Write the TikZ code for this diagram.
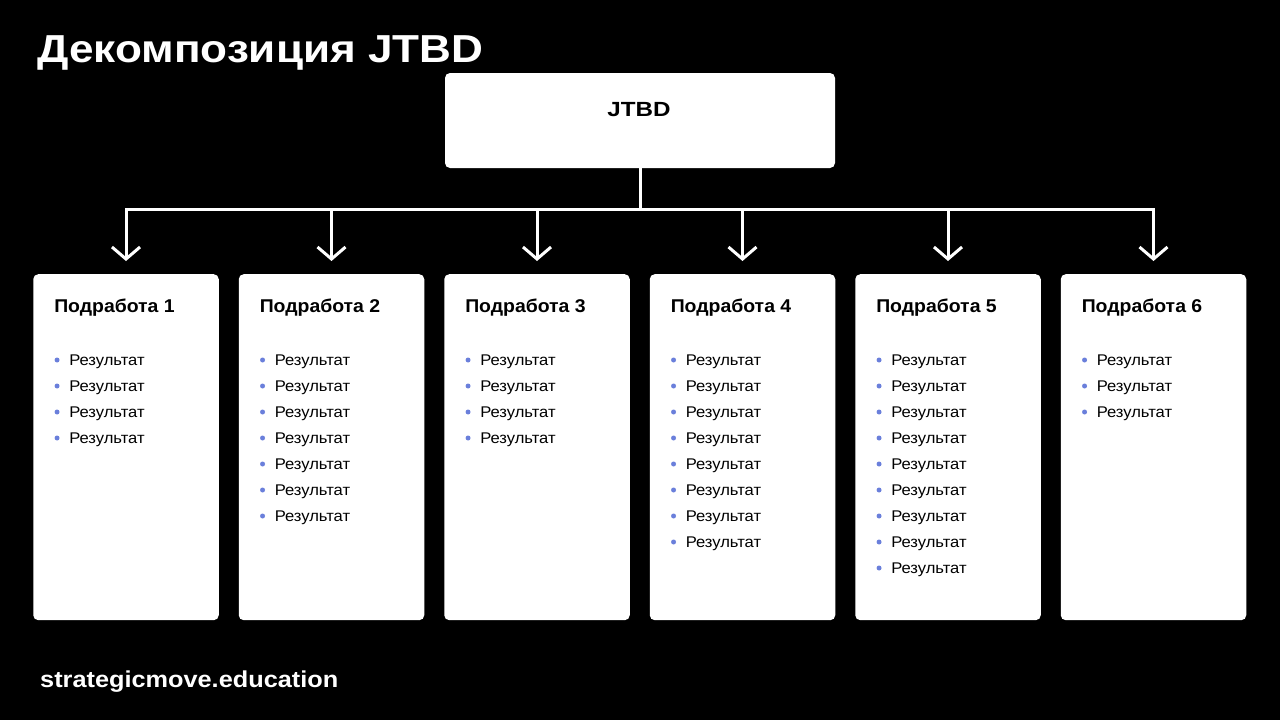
\documentclass[tikz,border=0pt]{standalone}
\usepackage{fontspec}
\usepackage{graphicx}
\setmainfont{Liberation Sans}
\usetikzlibrary{arrows.meta}
\definecolor{bul}{HTML}{6A7FDB}
\newcommand{\widen}[2]{\scalebox{#1}[1]{#2}}
\begin{document}
\begin{tikzpicture}[x=1pt,y=-1pt,
  card/.style={fill=white,rounded corners=5pt,minimum width=185.5pt,minimum height=346pt,inner sep=0pt,anchor=north},
  topcard/.style={fill=white,rounded corners=5pt,minimum width=390pt,minimum height=95pt,inner sep=0pt},
  conn/.style={draw=white,line width=3pt},
  arr/.style={conn,-{Straight Barb[length=12pt,width=28pt,line width=3pt]},shorten >=13pt},
  head/.style={font=\bfseries\fontsize{18.5}{20}\selectfont,anchor=base west,inner sep=0pt},
  item/.style={font=\fontsize{15.5}{18}\selectfont,anchor=west,inner sep=0pt},
  dot/.style={circle,fill=bul,minimum size=5pt,inner sep=0pt}]
\fill[black] (0,0) rectangle (1280,720);
\useasboundingbox (0,0) rectangle (1280,720);
\node[anchor=base west,inner sep=0pt,text=white,font=\bfseries\fontsize{39}{44}\selectfont] (title) at (37,62) {\widen{1.13}{Декомпозиция JTBD}};
\node[anchor=base west,inner sep=0pt,text=white,font=\bfseries\fontsize{23}{26}\selectfont] (footer) at (40,687) {\widen{1.1}{strategicmove.education}};
\node[topcard] (top) at (640,120.5) {};
\node[font=\bfseries\fontsize{20.5}{22}\selectfont,inner sep=0pt] (toplabel) at (639,110) {\widen{1.18}{JTBD}};
\coordinate (bus) at (640,209);
\draw[conn] (top.south) -- (bus);
\foreach \i/\n in {1/4,2/7,3/4,4/8,5/9,6/3}{
  \pgfmathsetmacro{\cx}{126+205.5*(\i-1)}
  \node[card] (b\i) at (\cx,274) {};
  \coordinate (d\i) at (\cx,209);
  \node[head] (h\i) at ([xshift=21pt,yshift=-38pt]b\i.north west) {\widen{1.05}{Подработа \i}};
  \foreach \k in {1,...,\n}{
    \node[dot] (p\i-\k) at ([xshift=24pt,yshift={-86pt-26pt*(\k-1)}]b\i.north west) {};
    \node[item] (r\i-\k) at ([xshift=36pt,yshift={-87.5pt-26pt*(\k-1)}]b\i.north west) {\widen{1.07}{Результат}};
  }
}
\draw[conn,line cap=rect] (d1) -- (d6);
\foreach \i in {1,...,6}{
  \draw[arr] (d\i) -- (b\i.north);
}
\end{tikzpicture}
\end{document}
